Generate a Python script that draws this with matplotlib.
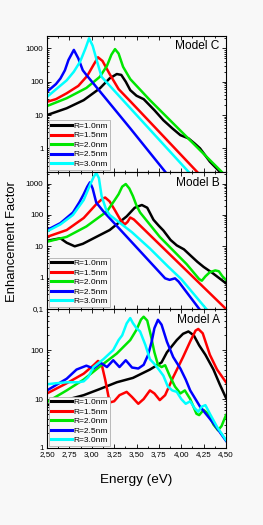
import matplotlib
matplotlib.use("Agg")
import matplotlib.pyplot as plt
from matplotlib.ticker import FixedLocator, FuncFormatter, LogLocator, NullFormatter, MultipleLocator

plt.rcParams['font.family'] = ['Liberation Sans', 'DejaVu Sans']

labels = ["R=1.0nm", "R=1.5nm", "R=2.0nm", "R=2.5nm", "R=3.0nm"]
colors = ["#000000", "#ff0000", "#00e600", "#0000ff", "#00ffff"]

# ---------------- Model C ----------------
c_e_10 = [2.50, 2.72, 2.91, 3.09, 3.20, 3.28, 3.33, 3.38, 3.43, 3.50, 3.58, 3.70, 3.80, 3.90, 3.99, 4.08, 4.15, 4.21, 4.32, 4.43, 4.52]
c_f_10 = [10, 16, 28, 63, 126, 170, 160, 100, 56, 38, 30, 14, 7, 4, 2.5, 2.0, 1.4, 1.0, 0.4, 0.2, 0.1]
c_e_15 = [2.50, 2.60, 2.72, 2.85, 2.95, 3.02, 3.07, 3.12, 3.20, 3.30, 3.43, 4.20, 4.30]
c_f_15 = [25, 30, 45, 75, 150, 320, 540, 420, 170, 60, 26, 0.17, 0.09]
c_e_20 = [2.50, 2.72, 2.94, 3.09, 3.17, 3.22, 3.26, 3.30, 3.35, 3.43, 3.65, 4.45, 4.55]
c_f_20 = [18.6, 32, 65, 140, 300, 650, 950, 700, 280, 120, 28, 0.2, 0.1]
c_e_25 = [2.50, 2.60, 2.65, 2.70, 2.74, 2.80, 2.85, 2.90, 2.94, 3.43, 3.82, 3.95]
c_f_25 = [50, 85, 125, 220, 450, 900, 500, 220, 160, 4, 0.2, 0.07]
c_e_30 = [2.50, 2.72, 2.80, 2.87, 2.93, 2.97, 3.01, 3.06, 3.11, 4.08, 4.20]
c_f_30 = [35, 110, 200, 400, 1000, 2000, 1200, 400, 140, 0.2, 0.09]

# ---------------- Model B ----------------
b_e_10 = [2.50, 2.60, 2.65, 2.72, 2.81, 2.90, 3.02, 3.20, 3.39, 3.48, 3.56, 3.62, 3.69, 3.75, 3.80, 3.88, 3.95, 4.03, 4.10, 4.18, 4.25, 4.35, 4.50]
b_f_10 = [15, 17, 18, 13, 10, 12, 18, 33, 90, 170, 208, 170, 70, 45, 32, 16, 10.7, 8, 5.2, 3.2, 2.2, 1.4, 0.66]
b_e_15 = [2.50, 2.72, 2.91, 3.05, 3.12, 3.15, 3.20, 3.26, 3.32, 3.37, 3.40, 3.43, 3.47, 4.50]
b_f_15 = [20, 33, 80, 220, 330, 360, 270, 140, 70, 50, 60, 83, 72, 0.1]
b_e_20 = [2.50, 2.72, 2.94, 3.17, 3.25, 3.30, 3.34, 3.38, 3.42, 3.46, 3.50, 3.54, 3.76, 4.06, 4.20, 4.23, 4.27, 4.32, 4.38, 4.42, 4.46, 4.50]
b_f_20 = [14, 20, 43, 130, 280, 460, 800, 970, 700, 400, 200, 120, 20, 2.7, 0.9, 0.8, 1.1, 1.5, 1.7, 1.6, 1.1, 0.85]
b_e_25 = [2.50, 2.65, 2.79, 2.86, 2.91, 2.95, 2.98, 3.01, 3.05, 3.13, 3.82, 3.87, 3.93, 3.97, 4.21, 4.30]
b_f_25 = [33, 55, 120, 250, 460, 800, 1100, 700, 250, 130, 0.95, 0.85, 0.95, 0.75, 0.093, 0.05]
b_e_30 = [2.50, 2.65, 2.79, 2.91, 2.98, 3.02, 3.05, 3.08, 3.11, 3.16, 3.20, 3.45, 3.65, 3.85, 4.00, 4.28, 4.35]
b_f_30 = [30, 50, 100, 300, 900, 1600, 2200, 1500, 400, 150, 100, 28, 8.5, 2.3, 0.9, 0.1, 0.06]

# ---------------- Model A ----------------
a_e_10 = [2.50, 2.75, 2.91, 3.09, 3.28, 3.46, 3.65, 3.78, 3.84, 3.95, 4.02, 4.08, 4.14, 4.20, 4.27, 4.36, 4.43, 4.50]
a_f_10 = [7.5, 10, 12, 16, 22, 27, 40, 56, 90, 160, 215, 240, 200, 125, 80, 40, 20, 10.5]
a_e_15 = [2.50, 2.72, 2.91, 3.02, 3.07, 3.11, 3.15, 3.20, 3.25, 3.31, 3.39, 3.45, 3.52, 3.58, 3.65, 3.70, 3.76, 3.82, 3.91, 4.02, 4.10, 4.16, 4.19, 4.24, 4.32, 4.40, 4.50]
a_f_15 = [13, 21, 33, 49, 60, 52, 25, 8.5, 9, 12, 14, 11, 8, 10, 15, 13, 9.5, 12, 28, 72, 150, 250, 270, 220, 80, 40, 22]
a_e_20 = [2.50, 2.72, 2.91, 3.09, 3.28, 3.43, 3.50, 3.55, 3.58, 3.62, 3.66, 3.70, 3.74, 3.78, 3.82, 3.87, 3.93, 3.99, 4.04, 4.10, 4.17, 4.20, 4.25, 4.30, 4.36, 4.41, 4.45, 4.50]
a_f_20 = [8.7, 15, 25, 46, 85, 160, 260, 420, 480, 400, 200, 90, 50, 45, 49, 30, 18, 13, 15, 10, 5, 4.7, 6, 5, 3, 2.3, 2.8, 4.7]
a_e_25 = [2.50, 2.72, 2.83, 2.94, 3.02, 3.10, 3.17, 3.24, 3.31, 3.38, 3.45, 3.52, 3.58, 3.63, 3.67, 3.70, 3.74, 3.78, 3.84, 3.91, 3.99, 4.05, 4.10, 4.21, 4.36, 4.50]
a_f_25 = [15, 26, 40, 48, 42, 55, 45, 62, 45, 62, 44, 42, 50, 80, 150, 280, 415, 330, 148, 72, 42, 25, 15, 7, 3.2, 1.4]
a_e_30 = [2.50, 2.60, 2.72, 2.85, 2.91, 2.96, 3.02, 3.13, 3.24, 3.30, 3.34, 3.39, 3.43, 3.46, 3.50, 3.54, 3.60, 3.65, 3.70, 3.75, 3.80, 3.85, 3.90, 3.95, 4.00, 4.05, 4.10, 4.15, 4.19, 4.23, 4.27, 4.32, 4.40, 4.50]
a_f_30 = [20, 21, 22, 22, 23, 28, 45, 65, 100, 160, 200, 350, 450, 355, 280, 240, 126, 65, 52, 40, 30, 18, 15, 14, 10, 8, 9, 6.5, 5.5, 7, 7.5, 5, 2.7, 1.45]

panels = [
    ("Model C", [(c_e_10, c_f_10), (c_e_15, c_f_15), (c_e_20, c_f_20), (c_e_25, c_f_25), (c_e_30, c_f_30)], (0.2, 2400), [1, 10, 100, 1000]),
    ("Model B", [(b_e_10, b_f_10), (b_e_15, b_f_15), (b_e_20, b_f_20), (b_e_25, b_f_25), (b_e_30, b_f_30)], (0.1, 2400), [0.1, 1, 10, 100, 1000]),
    ("Model A", [(a_e_10, a_f_10), (a_e_15, a_f_15), (a_e_20, a_f_20), (a_e_25, a_f_25), (a_e_30, a_f_30)], (1, 690), [1, 10, 100]),
]

x_ticks = [2.50, 2.75, 3.00, 3.25, 3.50, 3.75, 4.00, 4.25, 4.50]

bg = "#f8f8f8"
fig = plt.figure(figsize=(2.63, 5.25), dpi=100, facecolor=bg)

left, width = 47 / 263, 179 / 263
tops = [35.7, 171.7, 309.0]
bottoms = [171.7, 309.0, 448.0]


def yfmt(v, pos):
    if v < 1:
        return ("%g" % v).replace(".", ",")
    return "%d" % round(v)


for i, (title, series, ylim, yt) in enumerate(panels):
    b = 1 - bottoms[i] / 525
    h = (bottoms[i] - tops[i]) / 525
    ax = fig.add_axes([left, b, width, h])
    ax.set_facecolor(bg)
    for (e, f), c, lab in zip(series, colors, labels):
        ax.plot(e, f, color=c, lw=1.8, label=lab, solid_joinstyle='round')
    ax.set_yscale('log')
    ax.set_xlim(2.5, 4.5)
    ax.set_ylim(*ylim)
    ax.yaxis.set_major_locator(FixedLocator(yt))
    ax.yaxis.set_minor_locator(LogLocator(base=10, subs=range(2, 10), numticks=20))
    ax.yaxis.set_minor_formatter(NullFormatter())
    ax.yaxis.set_major_formatter(FuncFormatter(yfmt))
    ax.xaxis.set_major_locator(FixedLocator(x_ticks))
    ax.xaxis.set_minor_locator(MultipleLocator(0.125))
    ax.xaxis.set_major_formatter(FuncFormatter(lambda v, p: ("%.2f" % v).replace(".", ",")))
    ax.tick_params(which='both', direction='in', top=True, right=True, labelsize=5.8, pad=2.5, width=0.6)
    ax.tick_params(which='major', length=3)
    ax.tick_params(which='minor', length=1.6)
    if i < 2:
        ax.tick_params(labelbottom=False)
    for s in ax.spines.values():
        s.set_linewidth(0.8)
    ax.text(0.965, 0.965, title, transform=ax.transAxes, ha='right', va='top', fontsize=8.6)
    leg = ax.legend(loc='lower left', fontsize=6, handlelength=2.5, handletextpad=0.25,
                    labelspacing=0.2, borderpad=0.2, borderaxespad=0.25, fancybox=False,
                    frameon=True, facecolor=bg, edgecolor='#b0b0b0', framealpha=1)
    leg.get_frame().set_linewidth(0.6)
    for ln in leg.get_lines():
        ln.set_linewidth(2.2)
    if i == 2:
        ax.set_xlabel("Energy (eV)", fontsize=9.7, labelpad=11)

fig.text(12 / 263, 1 - 242 / 525, "Enhancement Factor", rotation=90, ha='center', va='center', fontsize=9.4)

fig.savefig("out.png", dpi=100, facecolor=bg)
